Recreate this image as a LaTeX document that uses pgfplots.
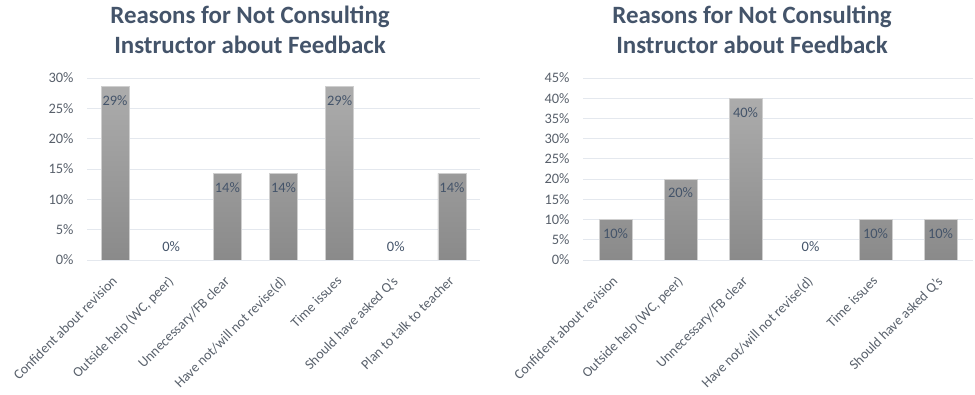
\documentclass[border=0pt]{standalone}
\usepackage{pgfplots}
\pgfplotsset{compat=1.18}
\usepackage{fontspec}
\setmainfont{Carlito}
\definecolor{titlec}{HTML}{44546A}
\definecolor{lblc}{HTML}{44546A}
\definecolor{tickc}{HTML}{58606B}
\definecolor{gridc}{HTML}{E4E8EE}
\definecolor{bartop}{HTML}{ACACAC}
\definecolor{barbot}{HTML}{8A8A8A}
\definecolor{barline}{HTML}{CFCFCF}
\pgfplotsset{
  mybar/.style={
    scale only axis,
    ybar, bar width=0.5,
    ymin=0, xmin=-0.5,
    axis line style={draw=none},
    major tick length=0pt,
    ymajorgrids, grid style={gridc, line width=0.8pt},
    /pgf/number format/assume math mode=true,
    tick label style={font=\fontsize{14.5}{17}\selectfont, text=tickc},
    yticklabel={\pgfmathprintnumber{\tick}\%},
    yticklabel style={xshift=-10bp},
    xticklabel style={font=\fontsize{14}{16}\selectfont, anchor=north east, inner sep=0pt, xshift=-4bp, yshift=-15bp, rotate=45},
    nodes near coords={\pgfmathprintnumber[fixed,precision=0]{\pgfplotspointmeta}\%},
    visualization depends on={rawy \as \rawy},
    nodes near coords style={font=\fontsize{14.5}{16}\selectfont, text=lblc, anchor=center,
      yshift={(\rawy>0)*(-14)+(\rawy<=0)*13}},
  },
  mystyle/.style={top color=bartop, bottom color=barbot, draw=barline, line width=0.5pt},
}
\begin{document}
\begin{tikzpicture}
\path[use as bounding box] (0,0) rectangle (975bp,395bp);
\node[anchor=base, font=\fontsize{25}{30}\selectfont\bfseries, text=titlec] at (250bp,371bp) {Reasons for Not Consulting};
\node[anchor=base, font=\fontsize{25}{30}\selectfont\bfseries, text=titlec] at (250bp,341bp) {Instructor about Feedback};
\node[anchor=base, font=\fontsize{25}{30}\selectfont\bfseries, text=titlec] at (752bp,371bp) {Reasons for Not Consulting};
\node[anchor=base, font=\fontsize{25}{30}\selectfont\bfseries, text=titlec] at (752bp,341bp) {Instructor about Feedback};
\begin{axis}[mybar,
  at={(87bp,135bp)}, anchor=south west,
  width=393bp, height=182bp,
  xmax=6.5, ymax=30,
  ytick={0,5,...,30},
  xtick={0,...,6},
  xticklabels={Confident about revision, Outside help (WC{,} peer), Unnecessary/FB clear, Have not/will not revise(d), Time issues, Should have asked Q's, Plan to talk to teacher},
]
\addplot[mystyle] coordinates {(0,28.57) (1,0) (2,14.29) (3,14.29) (4,28.57) (5,0) (6,14.29)};
\end{axis}
\begin{axis}[mybar,
  at={(583bp,135bp)}, anchor=south west,
  width=390bp, height=182bp,
  xmax=5.5, ymax=45,
  ytick={0,5,...,45},
  xtick={0,...,5},
  xticklabels={Confident about revision, Outside help (WC{,} peer), Unnecessary/FB clear, Have not/will not revise(d), Time issues, Should have asked Q's},
]
\addplot[mystyle] coordinates {(0,10) (1,20) (2,40) (3,0) (4,10) (5,10)};
\end{axis}
\end{tikzpicture}
\end{document}
